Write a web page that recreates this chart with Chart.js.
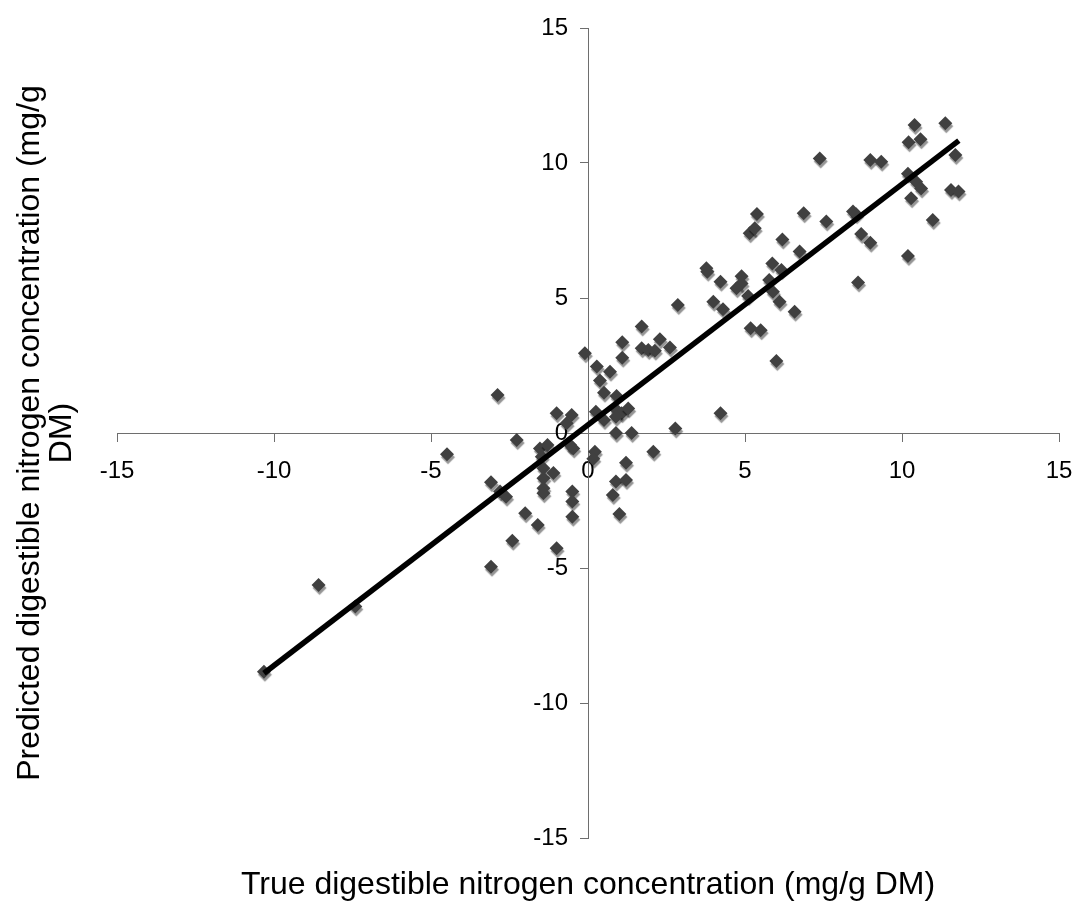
<!DOCTYPE html>
<html>
<head>
<meta charset="utf-8">
<script src="https://cdn.jsdelivr.net/npm/chart.js@4.4.1/dist/chart.umd.min.js"></script>
<style>
  html, body { margin: 0; padding: 0; background: #ffffff; }
  #wrap { width: 1078px; height: 906px; }
</style>
</head>
<body>
<div id="wrap"><canvas id="c" width="1078" height="906"></canvas></div>
<script>
// True digestible N (x) and predicted digestible N (y), mg/g DM
const trueN = [
  -10.32, -8.58, -7.41, -4.49, -3.09, -3.09, -2.88, -2.80, -2.61, -2.41,
  -2.27, -2.00, -1.60, -1.53, -1.29, -1.47, -1.42, -1.42, -1.42, -1.42,
  -1.10, -1.00, -1.00, -0.52, -0.68, -0.57, -0.47, -0.50, -0.50, -0.50,
  -0.10, 0.25, 0.22, 0.17, 0.28, 0.70, 0.38, 0.51, 0.91, 0.51,
  0.91, 1.07, 1.28, 0.89, 0.89, 1.39, 1.09, 1.09, 1.71, 1.71,
  1.92, 2.13, 2.29, 2.61, 2.78, 2.08, 1.21, 0.89, 1.21, 0.79,
  1.00, 2.86, 4.22, 3.77, 3.80, 4.22, 4.89, 4.89, 4.73, 5.10,
  3.99, 4.30, 5.87, 6.16, 5.77, 5.89, 6.10, 6.58, 5.18, 5.50,
  6.74, 6.00, 5.38, 5.15, 5.31, 6.19, 6.87, 7.38, 7.59, 8.44,
  8.54, 8.70, 8.99, 8.60, 8.99, 9.34, 10.19, 10.45, 10.61, 10.29,
  10.19, 10.98, 11.56, 11.80, 11.70, 10.21, 10.59, 10.40, 11.38
];
const predictedN = [
  -8.84, -5.63, -6.43, -0.79, -1.82, -4.95, 1.41, -2.17, -2.36, -3.99,
  -0.26, -2.97, -3.41, -0.57, -0.44, -0.88, -1.31, -1.68, -2.05, -2.23,
  -1.48, -4.27, 0.73, 0.67, 0.36, -0.44, -0.57, -2.17, -2.54, -3.10,
  2.95, 0.79, -0.69, -0.95, 2.46, 2.27, 1.94, 1.49, 1.37, 0.48,
  0.85, 0.73, 0.91, 0.60, 0.00, 0.00, 3.36, 2.79, 3.94, 3.14,
  3.07, 3.05, 3.47, 3.17, 0.17, -0.69, -1.10, -1.80, -1.74, -2.30,
  -3.00, 4.74, 0.73, 6.10, 5.97, 5.60, 5.81, 5.54, 5.36, 5.07,
  4.86, 4.58, 6.28, 6.04, 5.67, 5.23, 4.86, 4.49, 3.88, 3.81,
  6.72, 2.67, 8.11, 7.40, 7.58, 7.17, 8.14, 10.17, 7.83, 8.20,
  8.10, 7.37, 7.05, 5.57, 10.11, 10.05, 9.60, 9.31, 9.06, 8.69,
  6.56, 7.89, 9.00, 8.94, 10.30, 10.77, 10.88, 11.41, 11.47
];
// Linear trend line end points
const trendX = [-10.32, 11.81];
const trendY = [-8.90, 10.83];
// Axis ticks
const tickValues = [-15, -10, -5, 0, 5, 10, 15];

const xTitle = 'True digestible nitrogen concentration (mg/g DM)';
const yTitle = ['Predicted digestible nitrogen concentration (mg/g', 'DM)'];

const scatterPts = trueN.map((x, i) => ({ x: x, y: predictedN[i] }));
const trendPts = trendX.map((x, i) => ({ x: x, y: trendY[i] }));

const FONT = "'Liberation Sans', Arial, sans-serif";

const shadowPlugin = {
  id: 'markerShadow',
  beforeDatasetDraw(chart, args) {
    if (chart.data.datasets[args.index].isScatter) {
      const ctx = chart.ctx;
      ctx.save();
      ctx.shadowColor = 'rgba(0,0,0,0.42)';
      ctx.shadowOffsetX = 1;
      ctx.shadowOffsetY = 3;
      ctx.shadowBlur = 1;
    }
  },
  afterDatasetDraw(chart, args) {
    if (chart.data.datasets[args.index].isScatter) {
      chart.ctx.restore();
    }
  }
};

const axisColor = '#6e6e6e';

new Chart(document.getElementById('c'), {
  type: 'scatter',
  data: {
    datasets: [
      {
        type: 'line',
        label: 'Trend',
        data: trendPts,
        xAxisID: 'x', yAxisID: 'y',
        borderColor: '#000000',
        borderWidth: 5.5,
        pointRadius: 0,
        fill: false,
        tension: 0,
        order: 0
      },
      {
        type: 'scatter',
        isScatter: true,
        label: 'Samples',
        data: scatterPts,
        xAxisID: 'x', yAxisID: 'y',
        pointStyle: 'rectRot',
        pointRadius: 7,
        pointBackgroundColor: '#404040',
        pointBorderColor: '#404040',
        pointBorderWidth: 0,
        order: 1
      }
    ]
  },
  options: {
    responsive: false,
    animation: false,
    devicePixelRatio: 1,
    layout: { padding: { left: 0, right: 19, top: 28, bottom: 0 } },
    plugins: {
      legend: { display: false },
      tooltip: { enabled: false }
    },
    scales: {
      x: {
        type: 'linear',
        position: { y: 0 },
        min: -15, max: 15,
        afterBuildTicks: (s) => { s.ticks = tickValues.map(v => ({ value: v })); },
        grid: { display: true, drawOnChartArea: false, drawTicks: true, tickLength: 8, color: axisColor, lineWidth: 1 },
        border: { display: true, color: axisColor, width: 1 },
        ticks: { color: '#000000', font: { family: FONT, size: 24, lineHeight: 2.35 }, padding: 2, maxRotation: 0, autoSkip: false }
      },
      y: {
        type: 'linear',
        position: { x: 0 },
        min: -15, max: 15,
        afterBuildTicks: (s) => { s.ticks = tickValues.map(v => ({ value: v })); },
        grid: { display: true, drawOnChartArea: false, drawTicks: true, tickLength: 8, color: axisColor, lineWidth: 1 },
        border: { display: true, color: axisColor, width: 1 },
        ticks: {
          color: '#000000', font: { family: FONT, size: 24 }, padding: 12, autoSkip: false,
          callback: (v) => String(v) + '   '
        }
      },
      xTitleAxis: {
        type: 'linear',
        axis: 'x',
        position: 'bottom',
        grid: { display: false, drawTicks: false },
        border: { display: false },
        ticks: { display: false },
        title: { display: true, text: xTitle, color: '#000000', font: { family: FONT, size: 32, lineHeight: 1.0 }, padding: { top: 31, bottom: 5 } }
      },
      yTitleAxis: {
        type: 'linear',
        axis: 'y',
        position: 'left',
        grid: { display: false, drawTicks: false },
        border: { display: false },
        ticks: { display: false },
        title: { display: true, text: yTitle, color: '#000000', font: { family: FONT, size: 32, lineHeight: 1.0 }, padding: { top: 14, bottom: 39 } }
      }
    }
  },
  plugins: [shadowPlugin]
});
</script>
</body>
</html>
